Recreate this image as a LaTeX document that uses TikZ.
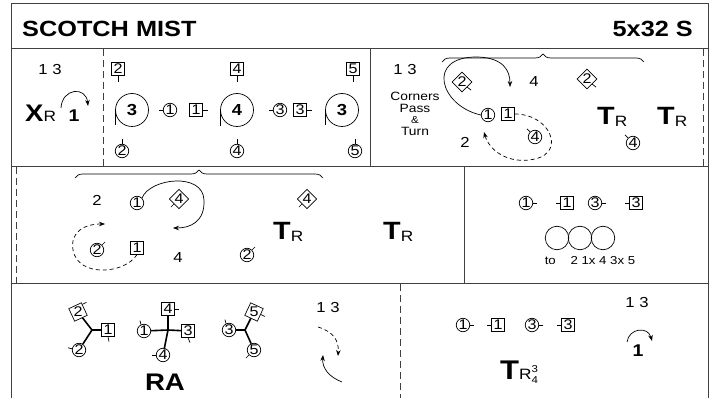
\documentclass[tikz,border=0pt]{standalone}
\usepackage{fontspec}
\setmainfont{Liberation Sans}[FakeStretch=1.15]
\usetikzlibrary{arrows.meta, shapes.geometric, decorations.pathreplacing}

\newcommand\fsz[1]{\fontsize{#1}{#1}\selectfont}
\newcommand\trn{{\fsz{25}\bfseries T}\raisebox{-2pt}{\fsz{15}R}}

\tikzset{
  man/.style={circle, draw, line width=0.7pt, inner sep=0pt, minimum size=13.5pt, font=\fsz{14}},
  lady/.style={rectangle, draw, line width=0.7pt, inner sep=0pt, minimum size=12.5pt, font=\fsz{14}},
  tilt/.style={regular polygon, regular polygon sides=4, draw, line width=0.7pt, inner sep=0pt,
               minimum size=18pt, shape border rotate=#1, font=\fsz{14}},
  tilt/.default=45,
  bigman/.style={circle, draw, line width=0.7pt, inner sep=0pt, minimum size=33pt, font=\bfseries\fsz{16}},
  ring/.style={circle, draw, line width=0.7pt, inner sep=0pt, minimum size=23.5pt},
  facing/.style={line width=0.7pt},
  frame/.style={line width=1pt, black!75},
  dframe/.style={frame, dash pattern=on 7pt off 4pt},
  move/.style={line width=0.7pt, -{Stealth[length=6pt,width=4.5pt]}},
  dmove/.style={move, dash pattern=on 4pt off 3pt},
  hand/.style={line width=1.6pt},
  num/.style={font=\fsz{14.5}},
  txt/.style={anchor=base west, inner sep=0pt},
  bracket/.style={decorate, decoration={brace, amplitude=8pt}, line width=0.7pt},
}

\begin{document}
\begin{tikzpicture}[x=1pt, y=-1pt, >=Stealth]
    \useasboundingbox (0,0) rectangle (713,398);

    % frame and bars
    \draw[frame] (11,398) -- (11,4) -- (708,4) -- (708,398);
    \draw[frame] (11,49) -- (708,49);
    \draw[frame] (11,167) -- (708,167);
    \draw[frame] (11,284) -- (708,284);
    \draw[dframe] (103,49) -- (103,167);
    \draw[frame] (370,49) -- (370,167);
    \draw[dframe] (703,49) -- (703,167);
    \draw[dframe] (16,167) -- (16,284);
    \draw[frame] (464,167) -- (464,284);
    \draw[dframe] (400,284) -- (400,398);

    \node[txt, font=\bfseries\fsz{22}] (title) at (22,37) {SCOTCH MIST};
    \node[anchor=base east, inner sep=0pt, font=\bfseries\fsz{22}] (form) at (693,37) {5x32 S};

    % bar 1-4: cross, cast
    \node[num] (c13a) at (50,70) {1 3};
    \node[txt] (xr) at (25,122) {{\fsz{24}\bfseries X}{\fsz{15}R}};
    \coordinate (ca1) at (61,108);
    \coordinate (ca2) at (88,106);
    \draw[move] (ca1) .. controls (62,88) and (86,86) .. (ca2);
    \node[anchor=base, inner sep=0pt, font=\bfseries\fsz{17}] (one1) at (74,122) {1};

    \node[lady] (a2) at (118,69) {2};
    \draw[facing] (a2.south) -- ++(0,6);
    \node[lady] (a4) at (237,69) {4};
    \draw[facing] (a4.south) -- ++(0,6);
    \node[lady] (a5) at (353,69) {5};
    \draw[facing] (a5.south) -- ++(0,6);
    \node[man] (b2) at (122,151) {2};
    \draw[facing] (b2.north) -- ++(0,-5);
    \node[man] (b4) at (237,151) {4};
    \draw[facing] (b4.north) -- ++(0,-5);
    \node[man] (b5) at (355,151) {5};
    \draw[facing] (b5.north) -- ++(0,-5);

    \node[bigman] (s1) at (132,110) {3};
    \draw[facing] (s1.west) -- ++(0,15);
    \node[man] (m1) at (170,110) {1};
    \draw[facing] (m1.west) -- ++(-4,0);
    \node[lady] (l1) at (196,110) {1};
    \draw[facing] (l1.east) -- ++(5,0);
    \node[bigman] (s2) at (237,110) {4};
    \draw[facing] (s2.west) -- ++(0,16);
    \node[man] (m3) at (280,110) {3};
    \draw[facing] (m3.west) -- ++(-4,0);
    \node[lady] (l3) at (300,110) {3};
    \draw[facing] (l3.east) -- ++(5,0);
    \node[bigman] (s3) at (342,110) {3};
    \draw[facing] (s3.west) -- ++(0,15);

    % bar 5-8: corners pass and turn
    \node[num] (c13b) at (405,70) {1 3};
    \node[align=center, font=\fontsize{12}{11.5}\selectfont] (cpt) at (415,114)
        {Corners\\Pass\\{\fsz{10}\&}\\Turn};
    \draw[bracket] (442,62) -- (644,62);
    \node[tilt] (d2a) at (462,82) {2};
    \draw[facing] (d2a.-45) -- ++(4,3);
    \node[tilt] (d2b) at (587,79) {2};
    \draw[facing] (d2b.-45) -- ++(4,3);
    \node[num] (n4a) at (534,82) {4};
    \node[man] (pm1) at (488,115) {1};
    \node[lady] (pl1) at (508,114) {1};
    \node[man] (pm4) at (535,137) {4};
    \draw[facing] (pm4.135) -- ++(-3,-3);
    \node[num] (n2a) at (465,142) {2};
    \coordinate (pe1) at (510,87);
    \coordinate (pe2) at (484,132);
    \draw[move] (pm1.west) .. controls (440,106) and (425,56) .. (478,57)
        .. controls (503,58) and (510,70) .. (pe1);
    \draw[dmove] (pl1.east) .. controls (550,114) and (566,152) .. (535,159)
        .. controls (508,165) and (489,150) .. (pe2);
    \node[txt] (tr1) at (597,125) {\trn};
    \node[txt] (tr2) at (657,125) {\trn};
    \node[man] (pm4b) at (633,143) {4};
    \draw[facing] (pm4b.135) -- ++(-3,-3);

    % bar 9-12: corners pass and turn
    \draw[bracket] (75,178) -- (323,178);
    \node[num] (n2b) at (97,200) {2};
    \node[man] (qm1) at (137,203) {1};
    \node[tilt] (d4a) at (179,199) {4};
    \draw[facing] (d4a.-135) -- ++(-3,3);
    \node[tilt] (d4b) at (307,199) {4};
    \draw[facing] (d4b.-135) -- ++(-3,3);
    \node[man] (qm2) at (97,250) {2};
    \draw[facing] (qm2.45) -- ++(3,-3);
    \node[lady] (ql1) at (137,248) {1};
    \node[num] (n4b) at (178,258) {4};
    \node[man] (qm2b) at (247,255) {2};
    \draw[facing] (qm2b.45) -- ++(3,-3);
    \coordinate (qe1) at (173,228);
    \coordinate (qe2) at (105,224);
    \draw[move] (qm1.north east) .. controls (150,178) and (203,172) .. (204,200)
        .. controls (205,222) and (190,228) .. (qe1);
    \draw[dmove] (ql1.south) .. controls (125,274) and (78,278) .. (73,250)
        .. controls (70,232) and (84,224) .. (qe2);
    \node[txt] (tr3) at (273,240) {\trn};
    \node[txt] (tr4) at (383,240) {\trn};

    % bar 13-16: circle 6 hands
    \node[man] (rm1) at (526,203) {1};
    \draw[facing] (rm1.east) -- ++(4,0);
    \node[lady] (rl1) at (567,203) {1};
    \draw[facing] (rl1.west) -- ++(-4,0);
    \node[man] (rm3) at (595,203) {3};
    \draw[facing] (rm3.east) -- ++(4,0);
    \node[lady] (rl3) at (636,203) {3};
    \draw[facing] (rl3.west) -- ++(-4,0);
    \node[ring] (o1) at (557,238) {};
    \node[ring] (o2) at (580,238) {};
    \node[ring] (o3) at (603,238) {};
    \node[font=\fsz{11.5}] (to) at (590,261) {to~~~~2 1x 4 3x 5};

    % bar 17-24: right hands across
    \coordinate (j1) at (92,330);
    \node[lady] (h1) at (108,330) {1};
    \draw[facing] (h1.south) -- ++(1,5);
    \node[tilt=25] (h2) at (78,312) {2};
    \draw[facing] (h2.60) -- ++(4,-2);
    \node[man] (h2b) at (79,350) {2};
    \draw[facing] (h2b.170) -- ++(-4,-1);
    \draw[hand] (j1) -- (h1);
    \draw[hand] (j1) -- (h2);
    \draw[hand] (j1) -- (h2b);

    \coordinate (j2) at (168,330);
    \node[lady] (k4) at (168,309) {4};
    \draw[facing] (k4.east) -- ++(4,0);
    \node[man] (k1) at (144,331) {1};
    \draw[facing] (k1.115) -- ++(-1,-4);
    \node[lady] (k3) at (188,331) {3};
    \draw[facing] (k3.south) -- ++(2,5);
    \node[man] (k4b) at (163,355) {4};
    \draw[facing] (k4b.west) -- ++(-4,0);
    \draw[hand] (j2) -- (k4);
    \draw[hand] (j2) -- (k1);
    \draw[hand] (j2) -- (k3);
    \draw[hand] (j2) -- (k4b);

    \coordinate (j3) at (245,330);
    \node[man] (g3) at (229,330) {3};
    \draw[facing] (g3.115) -- ++(-1,-4);
    \node[tilt=-25] (g5) at (254,312) {5};
    \draw[facing] (g5.-20) -- ++(4,2);
    \node[man] (g5b) at (254,350) {5};
    \draw[facing] (g5b.-135) -- ++(-3,3);
    \draw[hand] (j3) -- (g3);
    \draw[hand] (j3) -- (g5);
    \draw[hand] (j3) -- (g5b);
    \node[font=\bfseries\fsz{24}] (ra) at (165,382) {RA};

    \node[num] (c13c) at (328,308) {1 3};
    \coordinate (ra1) at (318,327);
    \coordinate (ra2) at (338,356);
    \coordinate (ra3) at (342,382);
    \coordinate (ra4) at (323,355);
    \draw[dmove] (ra1) .. controls (334,332) and (339,341) .. (ra2);
    \draw[move] (ra3) .. controls (329,377) and (322,368) .. (ra4);

    % bar 25-32: turn partners, cast
    \node[man] (um1) at (463,325) {1};
    \draw[facing] (um1.east) -- ++(4,0);
    \node[lady] (ul1) at (498,325) {1};
    \draw[facing] (ul1.west) -- ++(-4,0);
    \node[man] (um3) at (532,325) {3};
    \draw[facing] (um3.east) -- ++(4,0);
    \node[lady] (ul3) at (568,325) {3};
    \draw[facing] (ul3.west) -- ++(-4,0);
    \node[txt] (tr5) at (500,380) {{\fsz{27}\bfseries T}{\fsz{15}R}%
        \rlap{\raisebox{7pt}{\fsz{10}3}}\raisebox{-4pt}{\fsz{10}4}};

    \node[num] (c13d) at (637,303) {1 3};
    \coordinate (ua1) at (627,342);
    \coordinate (ua2) at (652,341);
    \draw[move] (ua1) .. controls (629,328) and (648,326) .. (ua2);
    \node[anchor=base, inner sep=0pt, font=\bfseries\fsz{17}] (one2) at (638,357) {1};
\end{tikzpicture}
\end{document}
